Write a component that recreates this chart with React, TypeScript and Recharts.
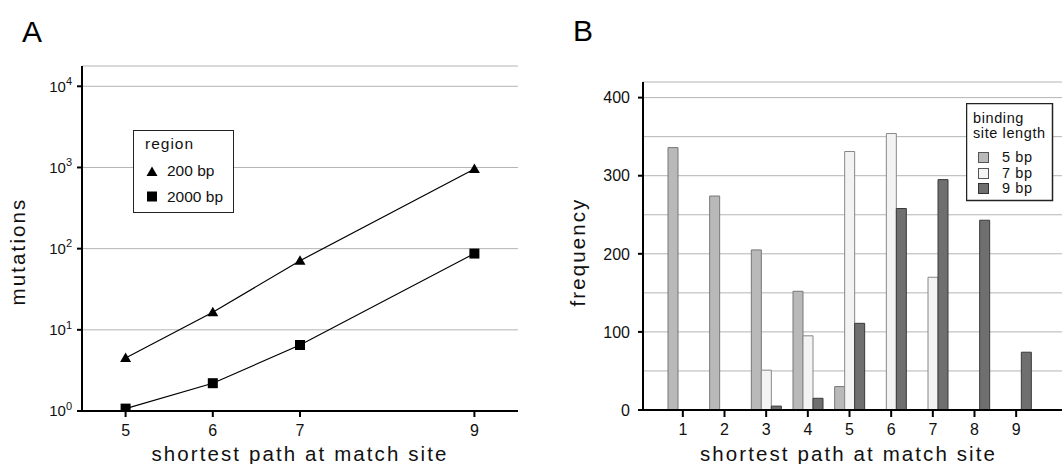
import React from "react";
import {
  LineChart,
  Line,
  BarChart,
  Bar,
  XAxis,
  YAxis,
  CartesianGrid,
  Legend,
  Label,
} from "recharts";

const FONT = "'Liberation Sans', Arial, Helvetica, sans-serif";

// panel A: mutations needed vs shortest path (log scale)
const pathLengthsA = [5, 6, 7, 9];
const mutations200bp = [4.5, 16.5, 71, 960];
const mutations2000bp = [1.07, 2.2, 6.5, 87];
const logTicks = [1, 10, 100, 1000, 10000];

// panel B: frequency by binding site length
const pathLengthsB = ["1", "2", "3", "4", "5", "6", "7", "8", "9"];
const freq5bp = [336, 274, 205, 152, 30, 0, 0, 0, 0];
const freq7bp = [0, 0, 51, 95, 331, 354, 170, 0, 0];
const freq9bp = [0, 0, 5, 15, 111, 258, 295, 243, 74];
const freqTicks = [0, 50, 100, 150, 200, 250, 300, 350, 400];

const dataA = pathLengthsA.map((x, i) => ({
  x,
  r200: mutations200bp[i],
  r2000: mutations2000bp[i],
}));

const dataB = pathLengthsB.map((path, i) => ({
  path,
  bp5: freq5bp[i],
  bp7: freq7bp[i],
  bp9: freq9bp[i],
}));

const GRID = "#b4b4b4";
const AXIS = { stroke: "#000", strokeWidth: 2 };

const Triangle = (props: any) => {
  const { cx, cy } = props;
  if (cx == null || cy == null) return null;
  return (
    <polygon
      points={`${cx},${cy - 5.5} ${cx - 5.5},${cy + 4} ${cx + 5.5},${cy + 4}`}
      fill="#000"
    />
  );
};

const Square = (props: any) => {
  const { cx, cy } = props;
  if (cx == null || cy == null) return null;
  return <rect x={cx - 5} y={cy - 5} width={10} height={10} fill="#000" />;
};

const PowerTick = ({ x, y, payload }: any) => {
  const exp = Math.round(Math.log10(payload.value));
  return (
    <text x={x} y={y} textAnchor="end" fontSize={15} fill="#111" fontFamily={FONT}>
      <tspan dy="0.36em">10</tspan>
      <tspan dy="-0.6em" fontSize={11}>
        {exp}
      </tspan>
    </text>
  );
};

const FreqTick = ({ x, y, payload }: any) => {
  if (payload.value % 100 !== 0) return null;
  return (
    <g>
      <line x1={x + 8} x2={x + 13} y1={y} y2={y} stroke="#000" strokeWidth={2} />
      <text x={x} y={y} dy="0.36em" textAnchor="end" fontSize={16} fill="#111" fontFamily={FONT}>
        {payload.value}
      </text>
    </g>
  );
};

const RegionLegend = () => (
  <svg width={103} height={84} style={{ display: "block" }}>
    <rect x={0.5} y={0.5} width={100} height={82} fill="#fff" stroke="#222" strokeWidth={1} />
    <g fontFamily={FONT} fontSize={15.5} fill="#111">
      <text x={12} y={19} letterSpacing={1}>region</text>
      <polygon points="19,36.5 13.5,46 24.5,46" fill="#000" />
      <text x={34} y={46}>200 bp</text>
      <rect x={14} y={61.5} width={10} height={10} fill="#000" />
      <text x={34} y={71.5}>2000 bp</text>
    </g>
  </svg>
);

const SiteLegend = () => (
  <svg width={88} height={99} style={{ display: "block" }}>
    <rect x={0.5} y={0.5} width={86} height={97} fill="#fff" stroke="#222" strokeWidth={1.5} />
    <g fontFamily={FONT} fontSize={14.5} fill="#111" letterSpacing={0.6}>
      <text x={7} y={19.5}>binding</text>
      <text x={7} y={35}>site length</text>
      <rect x={12.5} y={49.5} width={10} height={10} fill="#b9b9b9" stroke="#555" />
      <text x={36} y={59}>5 bp</text>
      <rect x={12.5} y={65.5} width={10} height={10} fill="#f4f4f4" stroke="#555" />
      <text x={36} y={75}>7 bp</text>
      <rect x={12.5} y={80.5} width={10} height={10} fill="#6f6f6f" stroke="#333" />
      <text x={36} y={90}>9 bp</text>
    </g>
  </svg>
);

const panelLetter: React.CSSProperties = {
  position: "absolute",
  fontFamily: FONT,
  fontSize: 30,
  lineHeight: "30px",
  color: "#000",
};

const axisTitle = { fontSize: 20.5, fill: "#111", fontFamily: FONT, letterSpacing: "2.1px", textAnchor: "middle" as const };

export default function App() {
  return (
    <div style={{ position: "absolute", left: 0, top: 0, width: 1062, height: 464, background: "#fff", overflow: "hidden" }}>
      <div style={{ ...panelLetter, left: 22, top: 17 }}>A</div>
      <div style={{ ...panelLetter, left: 573, top: 16 }}>B</div>

      <div style={{ position: "absolute", left: 0, top: 0 }}>
        <LineChart width={540} height={464} data={dataA} margin={{ top: 66, right: 22, bottom: 0, left: 0 }}>
          <CartesianGrid vertical={false} stroke={GRID} />
          <XAxis
            dataKey="x"
            type="number"
            domain={[4.5, 9.5]}
            ticks={pathLengthsA}
            height={53}
            axisLine={AXIS}
            tickLine={AXIS}
            tickSize={6}
            tickMargin={8}
            tick={{ fontSize: 16, fill: "#111", fontFamily: FONT }}
          >
            <Label value="shortest path at match site" position="insideBottom" offset={3} style={axisTitle} />
          </XAxis>
          <YAxis
            scale="log"
            domain={[1, 17783]}
            ticks={logTicks}
            allowDataOverflow
            width={82}
            axisLine={AXIS}
            tickLine={AXIS}
            tickSize={5}
            tickMargin={5}
            tick={<PowerTick />}
          >
            <Label value="mutations" angle={-90} position="insideLeft" offset={18} dy={13} style={axisTitle} />
          </YAxis>
          <Legend
            layout="vertical"
            align="center"
            verticalAlign="middle"
            content={() => <RegionLegend />}
            wrapperStyle={{ left: 133, top: 130, width: 103, height: 84 }}
          />
          <Line dataKey="r200" name="200 bp" stroke="#000" strokeWidth={1.2} dot={<Triangle />} isAnimationActive={false} />
          <Line dataKey="r2000" name="2000 bp" stroke="#000" strokeWidth={1.2} dot={<Square />} isAnimationActive={false} />
        </LineChart>
      </div>

      <div style={{ position: "absolute", left: 540, top: 0 }}>
        <BarChart
          width={522}
          height={464}
          data={dataB}
          margin={{ top: 82, right: 0, bottom: 0, left: 0 }}
          barGap={0}
        >
          <CartesianGrid vertical={false} stroke={GRID} />
          <XAxis
            dataKey="path"
            height={54}
            padding={{ left: 19, right: 25 }}
            axisLine={AXIS}
            tickLine={AXIS}
            tickSize={7}
            tickMargin={7}
            tick={{ fontSize: 16, fill: "#111", fontFamily: FONT }}
          >
            <Label value="shortest path at match site" position="insideBottom" offset={3} dx={-4} style={axisTitle} />
          </XAxis>
          <YAxis
            domain={[0, 420]}
            ticks={freqTicks}
            width={103}
            axisLine={AXIS}
            tickLine={false}
            tickSize={5}
            tickMargin={8}
            tick={<FreqTick />}
          >
            <Label value="frequency" angle={-90} position="insideLeft" offset={38} dy={6} style={axisTitle} />
          </YAxis>
          <Legend
            layout="vertical"
            align="center"
            verticalAlign="middle"
            content={() => <SiteLegend />}
            wrapperStyle={{ left: 426, top: 103, width: 88, height: 99 }}
          />
          <Bar dataKey="bp5" name="5 bp" barSize={10} fill="#b9b9b9" stroke="#777" strokeWidth={1} isAnimationActive={false} />
          <Bar dataKey="bp7" name="7 bp" barSize={10} fill="#f3f3f3" stroke="#888" strokeWidth={1} isAnimationActive={false} />
          <Bar dataKey="bp9" name="9 bp" barSize={10} fill="#6f6f6f" stroke="#3a3a3a" strokeWidth={1} isAnimationActive={false} />
        </BarChart>
      </div>
    </div>
  );
}
